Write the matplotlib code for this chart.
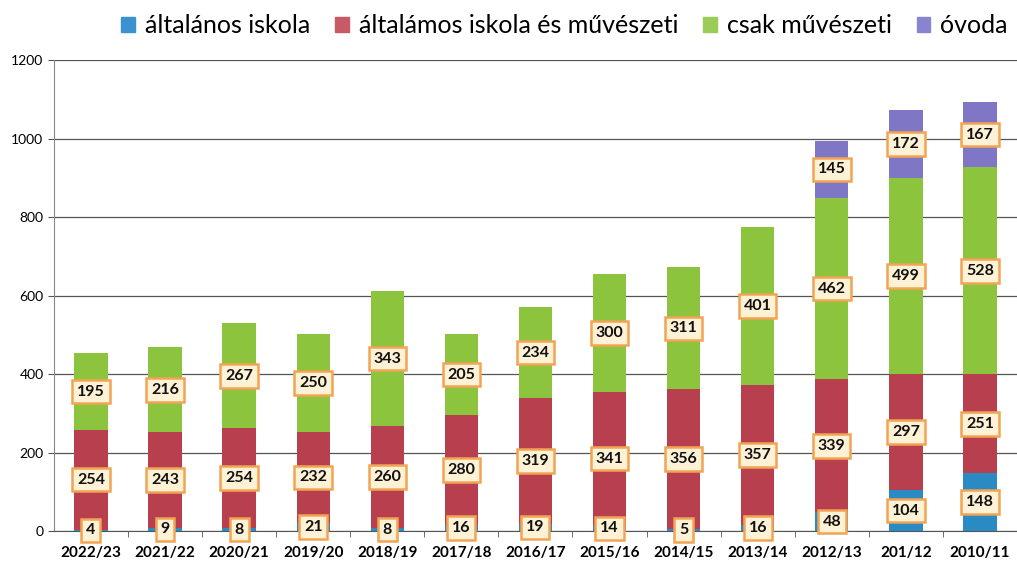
import matplotlib
matplotlib.use("Agg")
import matplotlib.pyplot as plt
import numpy as np

categories = ["2022/23", "2021/22", "2020/21", "2019/20", "2018/19", "2017/18", "2016/17",
              "2015/16", "2014/15", "2013/14", "2012/13", "201/12", "2010/11"]
altalanos = [4, 9, 8, 21, 8, 16, 19, 14, 5, 16, 48, 104, 148]
alt_muv = [254, 243, 254, 232, 260, 280, 319, 341, 356, 357, 339, 297, 251]
csak_muv = [195, 216, 267, 250, 343, 205, 234, 300, 311, 401, 462, 499, 528]
ovoda = [0, 0, 0, 0, 0, 0, 0, 0, 0, 0, 145, 172, 167]
series_names = ["általános iskola", "általámos iskola és művészeti", "csak művészeti", "óvoda"]
yticks = [0, 200, 400, 600, 800, 1000, 1200]

colors = ["#2a8bc4", "#b8404e", "#8cc43e", "#7f77c6"]
legend_colors = ["#3a93d0", "#c85a66", "#9ccc58", "#8a84d0"]

plt.rcParams['font.family'] = ['Lato', 'DejaVu Sans']

fig = plt.figure(figsize=(10.17, 5.62), dpi=100)
ax = fig.add_axes([0.053, 0.055, 0.947, 0.838])

x = np.arange(len(categories))
data = [altalanos, alt_muv, csak_muv, ovoda]
bottom = np.zeros(len(categories))
for vals, col, name in zip(data, colors, series_names):
    vals = np.array(vals, dtype=float)
    ax.bar(x, vals, width=0.45, bottom=bottom, color=col, label=name, zorder=3)
    for xi, b, v in zip(x, bottom, vals):
        if v > 0:
            ax.text(xi, b + v / 2, f"{int(v)}", ha="center", va="center",
                    fontsize=11.5, fontweight="bold", color="#111111", zorder=5,
                    bbox=dict(boxstyle="square,pad=0.3", facecolor="#fdf1d6",
                              edgecolor="#f2a454", linewidth=1.8))
    bottom += vals

ax.set_xlim(-0.5, 12.35)
ax.set_ylim(0, 1200)
ax.set_yticks(yticks)
ax.set_yticklabels([str(t) for t in yticks], fontsize=10)
ax.set_xticks(x)
ax.set_xticklabels(categories, fontsize=11, fontweight="bold")
ax.set_xticks(np.arange(len(categories)) + 0.5, minor=True)
ax.tick_params(axis="x", which="major", length=0, pad=11)
ax.tick_params(axis="x", which="minor", length=4, color="#555555")
ax.tick_params(axis="y", length=4, color="#555555")
ax.yaxis.grid(True, color="#555555", linewidth=0.9, zorder=0)
for s in ["top", "right"]:
    ax.spines[s].set_visible(False)
ax.spines["left"].set_color("#888888")
ax.spines["bottom"].set_color("#555555")

fig.legend([plt.Rectangle((0, 0), 1, 1, color=c) for c in legend_colors], series_names,
           loc="upper center", bbox_to_anchor=(0.555, 1.015), ncol=4, frameon=False,
           fontsize=18, handlelength=0.55, handleheight=0.55, handletextpad=0.4,
           columnspacing=1.0)

fig.savefig("out.png", dpi=100)
